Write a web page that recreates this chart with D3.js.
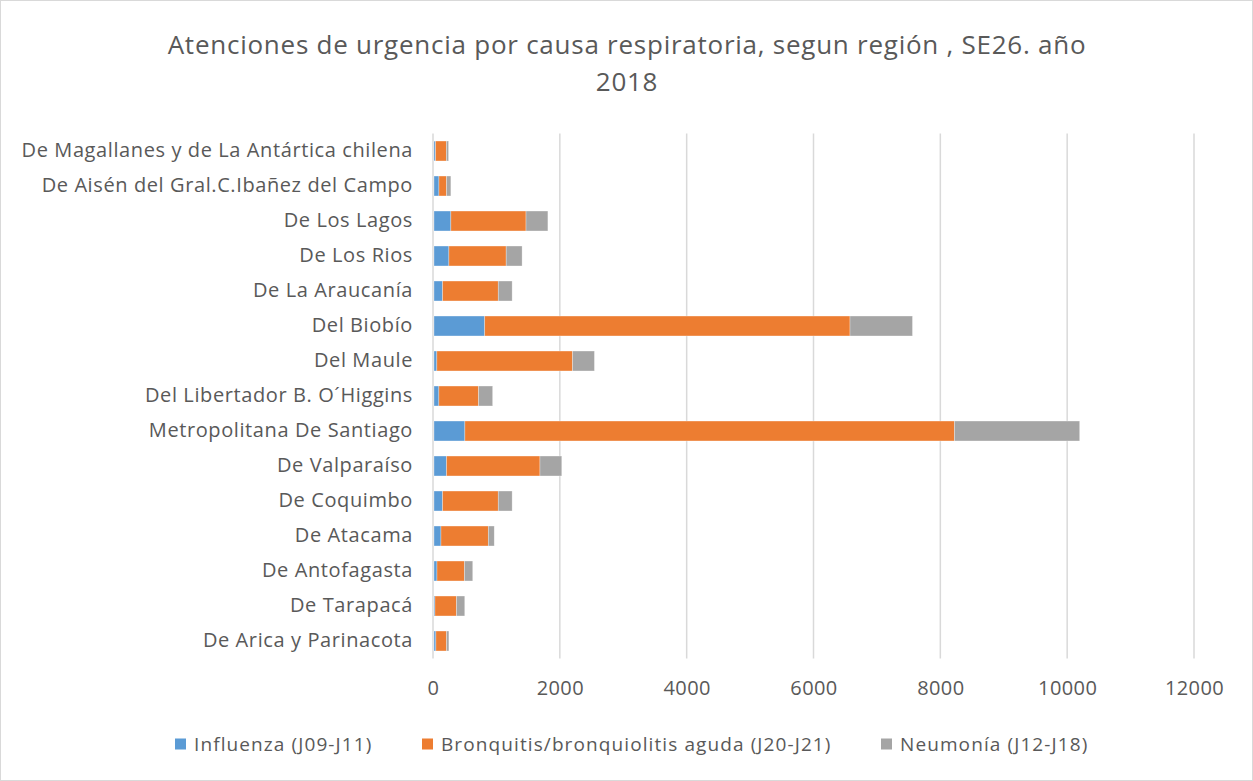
<!DOCTYPE html>
<html>
<head>
<meta charset="utf-8">
<script src="https://cdn.jsdelivr.net/npm/d3@7"></script>
<style>
  html, body { margin: 0; padding: 0; background: #fff; }
  svg { display: block; }
  text { font-family: "Open Sans", "Noto Sans", sans-serif; fill: #595959; }
</style>
</head>
<body>
<svg id="chart" width="1253" height="781"></svg>
<script>
// Categories, bottom to top as in the chart
const regions = [
  "De Arica y Parinacota",
  "De Tarapacá",
  "De Antofagasta",
  "De Atacama",
  "De Coquimbo",
  "De Valparaíso",
  "Metropolitana De Santiago",
  "Del Libertador B. O´Higgins",
  "Del Maule",
  "Del Biobío",
  "De La Araucanía",
  "De Los Rios",
  "De Los Lagos",
  "De Aisén del Gral.C.Ibañez del Campo",
  "De Magallanes  y de La Antártica chilena"
];
const influenza  = [30, 15, 47, 110, 136, 198, 487, 77, 45, 800, 136, 235, 266, 78, 25];
const bronquitis = [168, 340, 433, 746, 877, 1473, 7720, 626, 2140, 5760, 877, 903, 1185, 120, 170];
const neumonia   = [37, 130, 131, 94, 219, 344, 1975, 222, 345, 985, 219, 251, 345, 68, 35];

const seriesNames = ["Influenza (J09-J11)", "Bronquitis/bronquiolitis aguda (J20-J21)", "Neumonía (J12-J18)"];
const seriesColors = ["#5b9bd5", "#ed7d31", "#a5a5a5"];
const xTicks = [0, 2000, 4000, 6000, 8000, 10000, 12000];
const titleLines = ["Atenciones de urgencia por causa respiratoria, segun región , SE26. año", "2018"];

const svg = d3.select("#chart");
const W = 1253, H = 781;

svg.append("rect").attr("x", 0.5).attr("y", 0.5).attr("width", W - 1).attr("height", H - 1)
  .attr("fill", "#fff").attr("stroke", "#d9d9d9");

const plot = { left: 433, right: 1194, top: 133.5, bottom: 658.5 };

const x = d3.scaleLinear().domain([0, 12000]).range([plot.left, plot.right]);
const y = d3.scaleBand().domain(regions.slice().reverse()).range([plot.top, plot.bottom]).paddingInner(0.43).paddingOuter(0.215);

// gridlines
svg.append("g").selectAll("line").data(xTicks).join("line")
  .attr("x1", d => x(d)).attr("x2", d => x(d))
  .attr("y1", plot.top).attr("y2", plot.bottom)
  .attr("stroke", "#d9d9d9").attr("stroke-width", 1.5);

// stacked data
const table = regions.map((r, i) => ({ region: r, s0: influenza[i], s1: bronquitis[i], s2: neumonia[i] }));
const stack = d3.stack().keys(["s0", "s1", "s2"])(table);

svg.append("g").selectAll("g").data(stack).join("g")
  .attr("fill", (d, i) => seriesColors[i])
  .selectAll("rect").data(d => d).join("rect")
  .attr("x", d => x(d[0]) + 1)
  .attr("width", d => Math.max(0, x(d[1]) - x(d[0])))
  .attr("y", d => y(d.data.region))
  .attr("height", y.bandwidth())
  .attr("stroke", "#fff").attr("stroke-width", 0.6).attr("stroke-opacity", 0.5);

// x axis labels
const xAxis = d3.axisBottom(x).tickValues(xTicks).tickSize(0).tickPadding(0).tickFormat(d3.format("d"));
const gx = svg.append("g").attr("transform", `translate(0, ${plot.bottom + 22})`).call(xAxis);
gx.select(".domain").remove();
gx.selectAll("text").style("font-size", "20px").style("letter-spacing", "0.4px")
  .attr("fill", "#595959").attr("dy", "0.71em");

// y axis labels
const yAxis = d3.axisLeft(y).tickSize(0).tickPadding(0);
const gy = svg.append("g").attr("transform", `translate(${plot.left - 20}, 0)`).call(yAxis);
gy.select(".domain").remove();
gy.selectAll("text").style("font-size", "20px").style("letter-spacing", "0.6px").attr("fill", "#595959");

// title
svg.append("g").selectAll("text").data(titleLines).join("text")
  .attr("x", 627).attr("y", (d, i) => 54 + i * 37)
  .attr("text-anchor", "middle").style("font-size", "26px").style("letter-spacing", "0.75px").text(d => d);

// legend
const legendX = [175, 422, 881];
const lg = svg.append("g").selectAll("g").data(seriesNames).join("g")
  .attr("transform", (d, i) => `translate(${legendX[i]}, 744)`);
lg.append("rect").attr("x", 0).attr("y", -5.5).attr("width", 11).attr("height", 11)
  .attr("fill", (d, i) => seriesColors[i]);
lg.append("text").attr("x", 19).attr("y", 0).attr("dy", "0.35em")
  .style("font-size", "19px").style("letter-spacing", "1.1px").text(d => d);
</script>
</body>
</html>
